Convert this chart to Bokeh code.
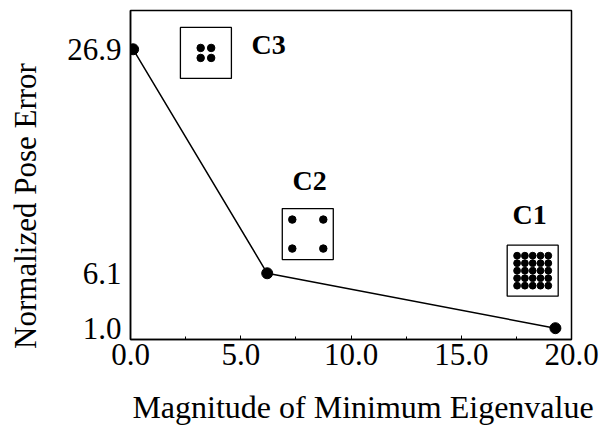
from bokeh.plotting import figure
from bokeh.models import Range1d, FixedTicker, PrintfTickFormatter, ColumnDataSource
from bokeh.core.properties import value
from bokeh.embed import file_html
from bokeh.resources import INLINE

# ---------------- data ----------------
min_eigenvalue = [0.12, 6.2, 19.27]
pose_error = [26.9, 6.1, 1.0]
config_names = ["C3", "C2", "C1"]
config_grid = [2, 2, 5]          # dots per side in each target configuration
x_ticks = [0.0, 5.0, 10.0, 15.0, 20.0]
y_ticks = [1.0, 6.1, 26.9]
x_title = "Magnitude of Minimum Eigenvalue"
y_title = "Normalized Pose Error"

# ---------------- layout ----------------
W, H = 600, 429
BL, BR, BT, BB = 130, 29, 10, 90
X0, X1 = 0.0, 20.0
Y0, Y1 = -0.05, 30.5
frame_w = W - BL - BR
frame_h = H - BT - BB
xppu = frame_w / (X1 - X0)
yppu = frame_h / (Y1 - Y0)

FONT = "Liberation Serif"
NBSP = "\u00a0"

p = figure(width=W, height=H, x_range=Range1d(X0, X1), y_range=Range1d(Y0, Y1),
           output_backend="svg", toolbar_location=None,
           min_border_left=BL, min_border_right=BR, min_border_top=BT, min_border_bottom=BB)
p.grid.visible = False
p.outline_line_color = "black"
p.outline_line_width = 1.5
p.background_fill_color = "white"
p.border_fill_color = "white"

minor = [(a + b) / 2 for a, b in zip(x_ticks[:-1], x_ticks[1:])]
p.xaxis.ticker = FixedTicker(ticks=x_ticks, minor_ticks=minor)
p.yaxis.ticker = FixedTicker(ticks=y_ticks, minor_ticks=[])
p.xaxis.formatter = PrintfTickFormatter(format="%.1f")
p.yaxis.formatter = PrintfTickFormatter(format="%.1f")
for ax in (p.xaxis, p.yaxis):
    ax.axis_line_color = "black"
    ax.axis_line_width = 1.5
    ax.major_label_text_font = FONT
    ax.major_label_text_font_size = "31px"
    ax.major_label_text_color = "black"
    ax.axis_label_text_font = FONT
    ax.axis_label_text_font_style = "normal"
    ax.axis_label_text_color = "black"
    ax.major_tick_out = 0
    ax.minor_tick_out = 0
    ax.major_tick_line_color = "black"
    ax.minor_tick_line_color = "black"
p.xaxis.axis_label_text_font_size = "32px"
p.yaxis.axis_label_text_font_size = "31px"
p.xaxis.major_tick_in = 4
p.xaxis.minor_tick_in = 3
p.yaxis.major_tick_in = 0
p.yaxis.minor_tick_in = 0
p.xaxis.major_label_standoff = 4
p.yaxis.major_label_standoff = 9

# axis titles (non-breaking padding nudges them off-centre as in the original)
p.xaxis.axis_label = NBSP * 3 + x_title
p.yaxis.axis_label = y_title + NBSP * 8
p.xaxis.axis_label_standoff = 21
p.yaxis.axis_label_standoff = 21

# curve
src = ColumnDataSource(dict(x=min_eigenvalue, y=pose_error))
p.line("x", "y", source=src, line_color="black", line_width=1.5)
p.scatter("x", "y", source=src, size=11, color="black")

# configuration insets (box centre and label centre in data units)
box_pos = [(3.42, 26.56), (8.04, 9.74), (18.24, 6.34)]
label_pos = [(6.26, 27.35), (8.12, 14.75), (18.1, 11.6)]
dot_spacing_px = [(10.5, 10.0), (31.0, 29.0), (7.8, 7.5)]
dot_size_px = [7.5, 7.5, 6.8]
BOX_PX = 51

bx = [b[0] for b in box_pos]
by = [b[1] for b in box_pos]
p.rect(bx, by, width=BOX_PX, height=BOX_PX, width_units="screen", height_units="screen",
       fill_color="white", line_color="black", line_width=1.3)

for (cx, cy), n, (sx, sy), ds in zip(box_pos, config_grid, dot_spacing_px, dot_size_px):
    xs, ys = [], []
    for i in range(n):
        for j in range(n):
            ox = (i - (n - 1) / 2) * sx
            oy = (j - (n - 1) / 2) * sy
            xs.append(cx + ox / xppu)
            ys.append(cy + oy / yppu)
    p.scatter(xs, ys, size=ds, color="black")

lsrc = ColumnDataSource(dict(x=[l[0] for l in label_pos], y=[l[1] for l in label_pos],
                             t=config_names))
p.text("x", "y", text="t", source=lsrc, text_font=value(FONT), text_font_size="28px",
       text_font_style="bold", text_align="center", text_baseline="middle", text_color="black")

open("out.html", "w").write(file_html(p, INLINE))
